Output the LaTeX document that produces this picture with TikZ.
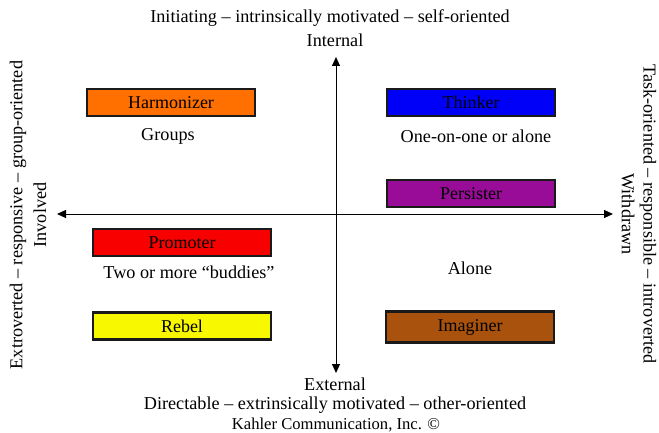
\documentclass[tikz,border=0pt]{standalone}
\usepackage{fontspec}
\setmainfont{Liberation Serif}
\usetikzlibrary{arrows.meta}
\definecolor{harm}{HTML}{FF7000}
\definecolor{think}{HTML}{0000F8}
\definecolor{pers}{HTML}{980C98}
\definecolor{prom}{HTML}{F80000}
\definecolor{reb}{HTML}{F8F800}
\definecolor{imag}{HTML}{A8520E}
\definecolor{edge}{HTML}{1A1A1A}
\begin{document}
\begin{tikzpicture}[x=1pt,y=-1pt,
  typebox/.style={draw=edge,line width=2.4pt,minimum height=27pt,inner sep=0pt,font=\fontsize{18}{18}\selectfont},
  lbl/.style={font=\fontsize{18.2}{19}\selectfont,inner sep=0pt},
  ax/.style={line width=1pt,-{Triangle[length=9pt,width=8pt]}}]
\useasboundingbox (0,0) rectangle (659,433);
% axes
\coordinate (cc) at (336,214);
\coordinate (L) at (57,214);
\coordinate (R) at (613,214);
\coordinate (T) at (336,57);
\coordinate (B) at (336,373);
\draw[ax] (cc) -- (L);
\draw[ax] (cc) -- (R);
\draw[ax] (cc) -- (T);
\draw[ax] (cc) -- (B);
% boxes
\node[typebox,fill=harm,minimum width=168pt] (harm) at (171,102.5) {Harmonizer};
\node[typebox,fill=think,minimum width=168pt] (think) at (471,102.5) {Thinker};
\node[typebox,fill=pers,minimum width=168pt] (pers) at (471,193.5) {Persister};
\node[typebox,fill=prom,minimum width=178pt] (prom) at (182,242.5) {Promoter};
\node[typebox,fill=reb,minimum width=178pt] (reb) at (182,326) {Rebel};
\node[typebox,fill=imag,minimum width=168pt,minimum height=31pt] (imag) at (470,327) {Imaginer};
% labels
\node[lbl] (groups) at (168,136) {Groups};
\node[lbl] (one) at (476,136) {One-on-one or alone};
\node[lbl] (buddies) at (189,272) {Two or more “buddies”};
\node[lbl] (alone) at (470,268) {Alone};
\node[lbl] (top1) at (330,18) {Initiating – intrinsically motivated – self-oriented};
\node[lbl] (top2) at (335,40) {Internal};
\node[lbl] (bot1) at (335,384) {External};
\node[lbl] (bot2) at (335,405) {Directable – extrinsically motivated – other-oriented};
\node[lbl,font=\fontsize{16.6}{17}\selectfont] (bot3) at (336,425) {Kahler Communication, Inc. ©};
\node[lbl,rotate=90] (left1) at (18,215) {Extroverted – responsive – group-oriented};
\node[lbl,rotate=90] (left2) at (40,215) {Involved};
\node[lbl,rotate=-90] (right1) at (648,214) {Task-oriented – responsible – introverted};
\node[lbl,rotate=-90] (right2) at (628,214) {Withdrawn};
\end{tikzpicture}
\end{document}
